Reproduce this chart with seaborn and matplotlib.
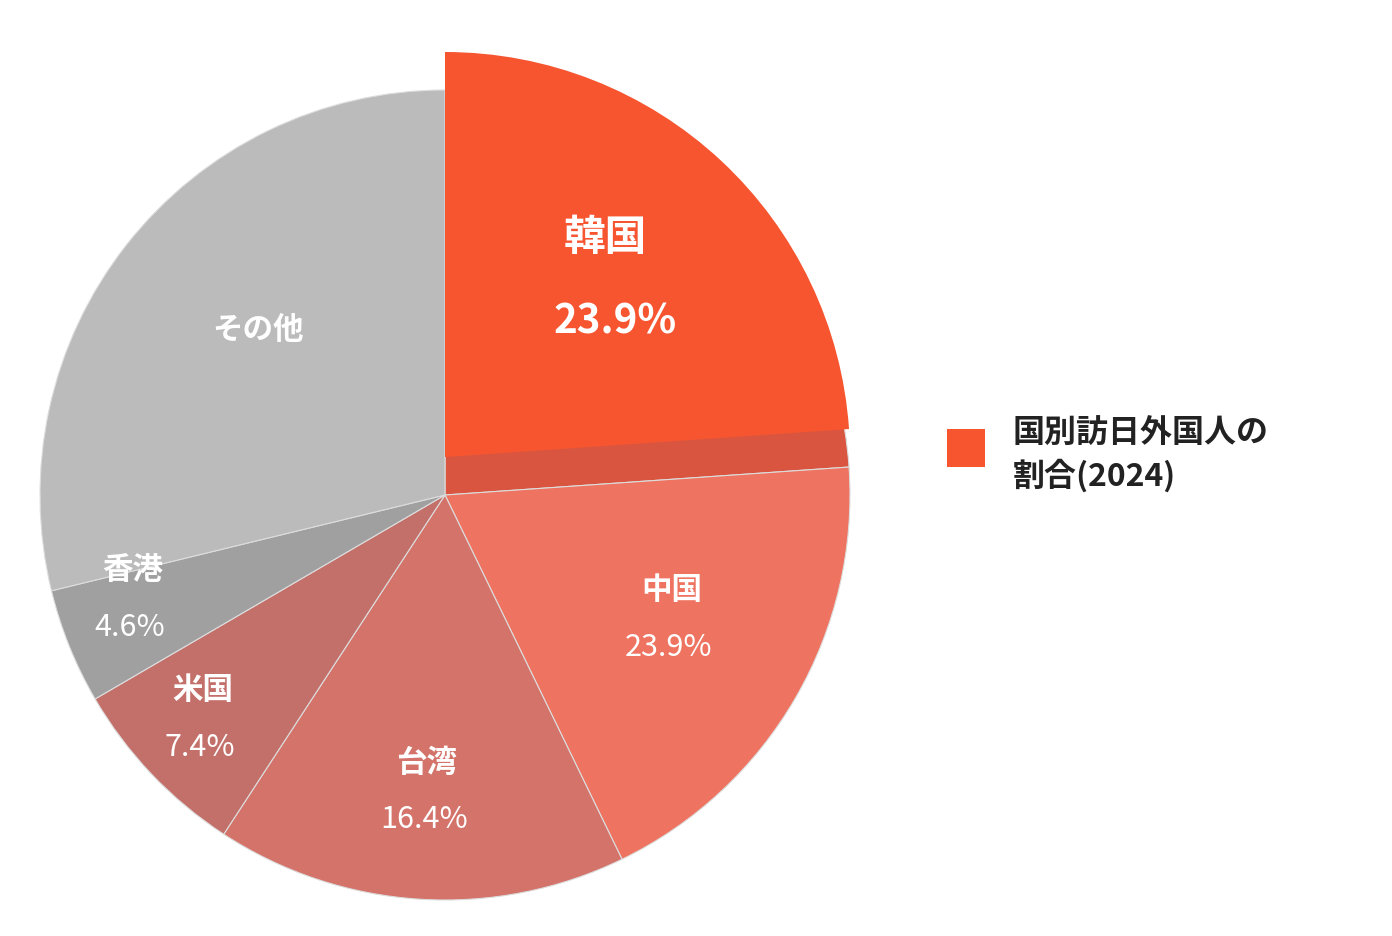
import numpy as np
import seaborn as sns
import matplotlib
matplotlib.use('Agg')
import matplotlib.pyplot as plt
from matplotlib.patches import Wedge, Rectangle

sns.set_theme(style='white')
plt.rcParams['font.family'] = ['Noto Sans CJK JP', 'DejaVu Sans']

# slice values (clockwise from top)
countries = ['韓国', '中国', '台湾', '米国', '香港', 'その他']
shares = [23.9, 18.9, 16.4, 7.4, 4.6, 28.8]
shown = ['23.9%', '23.9%', '16.4%', '7.4%', '4.6%', '']
colors = ['#d9553f', '#ee7360', '#d4736a', '#c4706a', '#a0a0a0', '#bbbbbb']
legend_label = '国別訪日外国人の\n割合(2024)'

W, H = 1392, 936
cx, cy, r = 445, H - 495, 405

fig = plt.figure(figsize=(W / 100, H / 100), dpi=100)
ax = fig.add_axes([0, 0, 1, 1])
ax.set_xlim(0, W)
ax.set_ylim(0, H)
ax.set_aspect('equal')
ax.axis('off')

ax.pie(shares, colors=colors, startangle=90, counterclock=False,
       center=(cx, cy), radius=r, wedgeprops=dict(linewidth=0.8, edgecolor='#dddddd'))
ax.set_xlim(0, W)
ax.set_ylim(0, H)

# highlighted slice lifted up
t1 = 90 - 360 * shares[0] / sum(shares)
ax.add_patch(Wedge((cx, cy + 38), r, t1, 90, facecolor='#f75530', edgecolor='none'))

def txt(x, y, s, size, weight='bold'):
    ax.text(x, H - y, s, ha='center', va='center', color='white',
            fontsize=size, fontweight=weight)

txt(605, 238, countries[0], 30)
txt(615, 322, shown[0], 29)
pos = {1: (672, 590, 648), 2: (427, 763, 820), 3: (203, 690, 748), 4: (133, 570, 628)}
for i, (x, y1, y2) in pos.items():
    txt(x, y1, countries[i], 22)
    txt(x - 3, y2, shown[i], 22, 'normal')
txt(258, 330, countries[5], 22)

ax.add_patch(Rectangle((947, H - 467), 38, 38, facecolor='#f75530', edgecolor='none'))
ax.text(1013, H - 455, legend_label, ha='left', va='center', fontsize=23,
        fontweight='bold', color='#222222', linespacing=1.35)

fig.savefig('out.png', dpi=100)
